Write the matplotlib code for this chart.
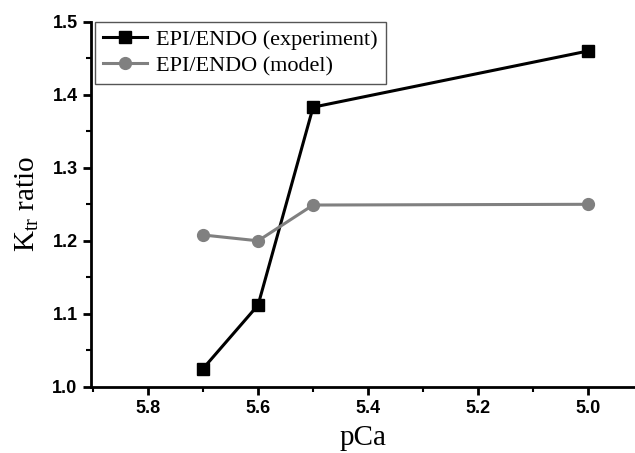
import matplotlib
matplotlib.use("Agg")
import matplotlib.pyplot as plt
from matplotlib.ticker import MultipleLocator

pca = [5.7, 5.6, 5.5, 5.0]
exp_ratio = [1.025, 1.112, 1.383, 1.460]
model_ratio = [1.208, 1.200, 1.249, 1.250]

fig = plt.figure(figsize=(6.35, 4.53), dpi=100)
ax = fig.add_axes([0.143, 0.146, 0.857, 0.806])

ax.plot(pca, exp_ratio, color="black", lw=2.2, marker="s", ms=8,
        label="EPI/ENDO (experiment)")
ax.plot(pca, model_ratio, color="#808080", lw=2.2, marker="o", ms=8.5,
        label="EPI/ENDO (model)")

ax.set_xlim(5.904, 4.915)
ax.set_ylim(1.0, 1.5)
ax.xaxis.set_minor_locator(MultipleLocator(0.1))
ax.yaxis.set_minor_locator(MultipleLocator(0.05))
ax.set_xticks([5.8, 5.6, 5.4, 5.2, 5.0])
ax.set_xticklabels(["5.8", "5.6", "5.4", "5.2", "5.0"])
ax.set_yticks([1.0, 1.1, 1.2, 1.3, 1.4, 1.5])
ax.set_yticklabels(["1.0", "1.1", "1.2", "1.3", "1.4", "1.5"])

for s in ["top", "right"]:
    ax.spines[s].set_visible(False)
for s in ["left", "bottom"]:
    ax.spines[s].set_linewidth(2)

ax.tick_params(which="major", direction="out", length=6, width=2,
               labelsize=13)
ax.tick_params(which="minor", direction="out", length=3.5, width=1.5)
for lab in ax.get_xticklabels() + ax.get_yticklabels():
    lab.set_fontfamily("Liberation Sans")
    lab.set_fontweight("bold")

ax.set_xlabel("pCa", fontfamily="Liberation Serif", fontsize=21, labelpad=6)
ax.set_ylabel(r"K$_{\mathregular{tr}}$ ratio", fontfamily="Liberation Serif",
              fontsize=21, labelpad=8)

leg = ax.legend(loc="upper left", bbox_to_anchor=(0.008, 1.0),
                borderaxespad=0,
                prop={"family": "Liberation Serif", "size": 16},
                fancybox=False, edgecolor="#555555", framealpha=1,
                handlelength=2.0, borderpad=0.35, labelspacing=0.25,
                handletextpad=0.4)
leg.get_frame().set_linewidth(1)

fig.savefig("out.png", dpi=100)
